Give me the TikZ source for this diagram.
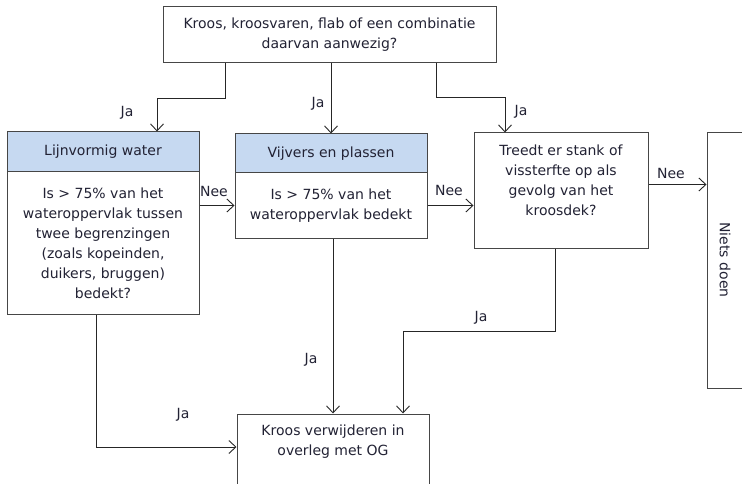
\documentclass[tikz,border=0pt]{standalone}
\usepackage{fontspec}
\setmainfont{DejaVu Sans}
\usetikzlibrary{arrows.meta}
\usetikzlibrary{positioning}
\definecolor{headblue}{RGB}{198,217,241}
\definecolor{txt}{RGB}{34,34,52}
\definecolor{edge}{RGB}{70,70,70}
\tikzset{box/.style = {draw=edge, line width=1pt, fill=white, inner sep=0pt,
                       text=txt, align=center, font=\fontsize{14}{20}\selectfont}}
\tikzset{head/.style = {box, fill=headblue}}
\tikzset{txtonly/.style = {inner sep=0pt, text=txt, align=center,
                           font=\fontsize{14}{20}\selectfont}}
\tikzset{arr/.style = {draw=black!85, line width=0.9pt,
                       -{Straight Barb[length=7pt,width=13pt]}}}
\tikzset{lbl/.style = {inner sep=0pt, text=txt, font=\fontsize{14}{16}\selectfont}}

\begin{document}
\begin{tikzpicture}[x=1pt, y=-1pt]
    \clip (0,0) rectangle (742,484);
    \fill[white] (0,0) rectangle (742,484);
    % boxes
    \node [box, minimum width=333pt, minimum height=56pt] (top) at (329.5,35)
      {Kroos, kroosvaren, flab of een combinatie\\daarvan aanwezig?};
    \node [head, minimum width=192pt, minimum height=40pt] (lijnkop) at (103,152)
      {Lijnvormig water};
    \node [box, minimum width=192pt, minimum height=142pt] (lijn) at (103,243)
      {Is > 75\% van het\\wateroppervlak tussen\\twee begrenzingen\\(zoals kopeinden,\\duikers, bruggen)\\bedekt?};
    \node [head, minimum width=192pt, minimum height=39pt] (vijkop) at (331,153.5)
      {Vijvers en plassen};
    \node [box, minimum width=192pt, minimum height=65pt] (vij) at (331,205.5)
      {Is > 75\% van het\\wateroppervlak bedekt};
    \node [box, minimum width=174pt, minimum height=115pt] (stank) at (561,190.5) {};
    \node [txtonly, below=12pt of stank.north] (stanktxt)
      {Treedt er stank of\\vissterfte op als\\gevolg van het\\kroosdek?};
    \node [box, minimum width=53pt, minimum height=255pt] (niets) at (733.5,260.5) {};
    \node [txtonly, rotate=-90] (nietstxt) at (725,260) {Niets doen};
    \node [box, minimum width=192pt, minimum height=86pt] (kroos) at (333,457) {};
    \node [txtonly, below=11pt of kroos.north] (kroostxt)
      {Kroos verwijderen in\\overleg met OG};
    % connectors
    \draw [arr] ([xshift=63pt]top.south west) -- +(0,35) -| ([xshift=54pt]lijnkop.north);
    \draw [arr] (top.south -| vijkop.north) -- (vijkop.north);
    \draw [arr] ([xshift=-60pt]top.south east) -- +(0,34) -| ([xshift=-56pt]stank.north);
    \draw [arr] (lijn.east |- vij.west) -- (vij.west);
    \draw [arr] (vij.east) -- (vij.east -| stank.west);
    \draw [arr] ([yshift=6pt]stank.east) -- ([yshift=6pt]stank.east -| niets.west);
    \draw [arr] ([xshift=-6pt]stank.south) -- +(0,83) -| ([xshift=70pt]kroos.north);
    \draw [arr] (vij.south -| kroos.north) -- (kroos.north);
    \draw [arr] ([xshift=-7pt]lijn.south) |- ([yshift=10pt]kroos.west);
    % labels
    \node [lbl] (ja1) at (127,113) {Ja};
    \node [lbl] (ja2) at (318,104) {Ja};
    \node [lbl] (ja3) at (521,112) {Ja};
    \node [lbl] (ja4) at (481,318) {Ja};
    \node [lbl] (ja5) at (311,360) {Ja};
    \node [lbl] (ja6) at (183,415) {Ja};
    \node [lbl] (nee1) at (214,191) {Nee};
    \node [lbl] (nee2) at (449,190) {Nee};
    \node [lbl] (nee3) at (671,173) {Nee};
\end{tikzpicture}
\end{document}
